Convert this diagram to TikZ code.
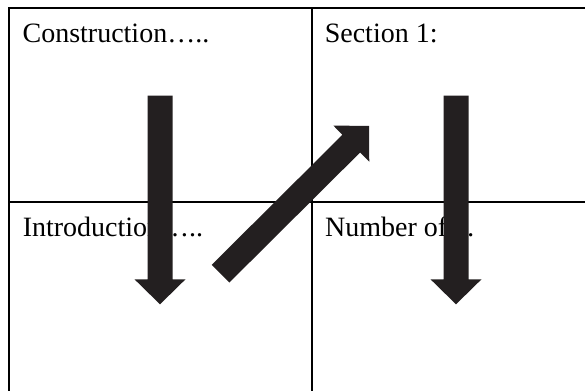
\documentclass[tikz,border=0pt]{standalone}
\usepackage{fontspec}
\setmainfont{Liberation Serif}
\usetikzlibrary{calc}

\definecolor{arrowink}{RGB}{35,31,32}

\tikzset{
  gridline/.style={line width=2pt, draw=black, line join=miter},
  celltext/.style={anchor=base west, inner sep=0pt, outer sep=0pt,
    font=\fontsize{28}{33}\selectfont, text=black},
  blockarrowfill/.style={fill=arrowink},
}

% Block arrow from a named tail coordinate to a named tip coordinate:
% shaft 25 wide, head 51 wide and 25 long.
\newcommand\blockarrow[2]{%
  \fill[blockarrowfill] let \p1=($(#2)-(#1)$), \n1={veclen(\x1,\y1)}, \n2={atan2(\y1,\x1)} in
    [shift={(#1)}, rotate=\n2]
    (0pt,-12.5pt) -- ({\n1-25pt},-12.5pt) -- ({\n1-25pt},-25.5pt) -- ({\n1},0pt)
    -- ({\n1-25pt},25.5pt) -- ({\n1-25pt},12.5pt) -- (0pt,12.5pt) -- cycle;
}

\begin{document}
\begin{tikzpicture}[x=1pt, y=1pt]
  \useasboundingbox (0,0) rectangle (585,-391);
  \fill[white] (0,0) rectangle (585,-391);

  % table rules (the table runs off the right and bottom edges)
  \draw[gridline] (585,-8) -- (9,-8) -- (9,-391);
  \draw[gridline] (312.3,-8) -- (312.3,-391);
  \draw[gridline] (9,-202) -- (585,-202);

  % cell texts
  \node[celltext] (construction) at (22.6,-42) {Construction…..};
  \node[celltext] (section)      at (324.8,-42) {Section 1:};
  \node[celltext] (introduction) at (22.8,-236) {Introduction…..};
  \node[celltext] (number)       at (325.2,-236) {Number of…};

  % arrow ends
  \coordinate (leftTail)  at (160,-95.7);
  \coordinate (leftTip)   at (160,-304.3);
  \coordinate (diagTail)  at (220.5,-273.7);
  \coordinate (diagTip)   at (369,-126);
  \coordinate (rightTail) at (456,-95.7);
  \coordinate (rightTip)  at (456,-304.3);

  \blockarrow{leftTail}{leftTip}
  \blockarrow{diagTail}{diagTip}
  \blockarrow{rightTail}{rightTip}
\end{tikzpicture}
\end{document}
